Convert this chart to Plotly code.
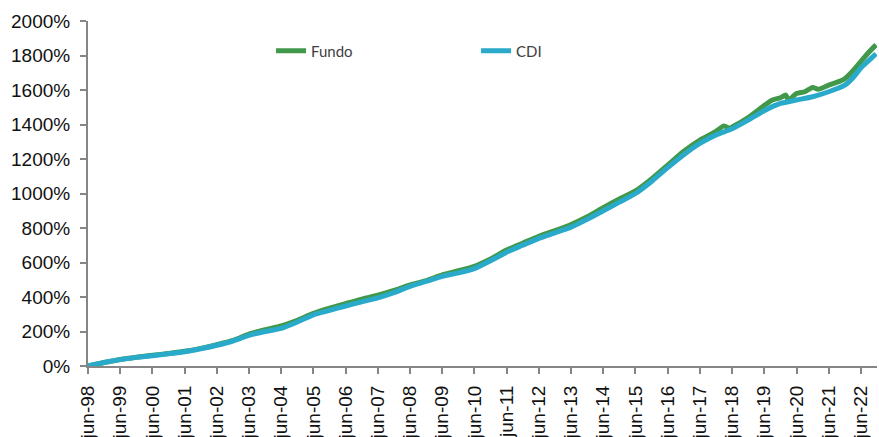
import plotly.graph_objects as go

# Cumulative return (%) since jun-98
cdi_dates = [
    "1998-06-01", "1998-12-01", "1999-06-01", "1999-12-01", "2000-06-01", "2000-12-01",
    "2001-06-01", "2001-12-01", "2002-06-01", "2002-12-01", "2003-06-01", "2003-12-01",
    "2004-06-01", "2004-12-01", "2005-06-01", "2005-12-01", "2006-06-01", "2006-12-01",
    "2007-06-01", "2007-12-01", "2008-06-01", "2008-12-01", "2009-06-01", "2009-12-01",
    "2010-06-01", "2010-12-01", "2011-06-01", "2011-12-01", "2012-06-01", "2012-12-01",
    "2013-06-01", "2013-12-01", "2014-06-01", "2014-12-01", "2015-06-01", "2015-12-01",
    "2016-06-01", "2016-12-01", "2017-06-01", "2017-12-01", "2018-06-01", "2018-12-01",
    "2019-06-01", "2019-12-01", "2020-06-01", "2020-12-01", "2021-06-01", "2021-12-01",
    "2022-03-01", "2022-06-01", "2022-09-01", "2022-11-20",
]
cdi_values = [
    0, 20, 37, 50, 60, 71,
    83, 100, 120, 145, 178, 200,
    218, 255, 297, 322, 348, 372,
    395, 425, 462, 490, 520, 540,
    565, 610, 660, 700, 740, 772,
    805, 850, 900, 950, 1000, 1070,
    1150, 1225, 1290, 1340, 1375, 1425,
    1480, 1522, 1542, 1561, 1590, 1628,
    1670, 1728, 1772, 1810,
]

fundo_dates = [
    "1998-06-01", "1998-12-01", "1999-06-01", "1999-12-01", "2000-06-01", "2000-12-01",
    "2001-06-01", "2001-12-01", "2002-06-01", "2002-12-01", "2003-06-01", "2003-12-01",
    "2004-06-01", "2004-12-01", "2005-06-01", "2005-12-01", "2006-06-01", "2006-12-01",
    "2007-06-01", "2007-12-01", "2008-06-01", "2008-12-01", "2009-06-01", "2009-12-01",
    "2010-06-01", "2010-12-01", "2011-06-01", "2011-12-01", "2012-06-01", "2012-12-01",
    "2013-06-01", "2013-12-01", "2014-06-01", "2014-12-01", "2015-06-01", "2015-12-01",
    "2016-06-01", "2016-12-01", "2017-06-01", "2017-12-01", "2018-03-01", "2018-05-01",
    "2018-06-01", "2018-12-01", "2019-06-01", "2019-09-01", "2019-12-01", "2020-02-01",
    "2020-03-01", "2020-06-01", "2020-09-01", "2020-12-01", "2021-02-01", "2021-06-01",
    "2021-10-01", "2021-12-01", "2022-03-01", "2022-06-01", "2022-09-01", "2022-11-20",
]
fundo_values = [
    0, 20, 38, 51, 62, 73,
    85, 102, 123, 148, 185, 210,
    232, 265, 305, 335, 362, 388,
    410, 438, 470, 495, 528, 552,
    578, 620, 672, 712, 752, 785,
    820, 865, 918, 968, 1015, 1085,
    1165, 1245, 1310, 1360, 1392, 1378,
    1385, 1440, 1510, 1542, 1555, 1571,
    1540, 1580, 1590, 1615, 1604, 1628,
    1650, 1665, 1710, 1765, 1820, 1862,
]

tick_dates = [f"{y}-06-01" for y in range(1998, 2023)]
tick_labels = [f"jun-{y % 100:02d}" for y in range(1998, 2023)]

GREEN = "#41984b"
BLUE = "#2aaacb"
AXIS = "#868686"

fig = go.Figure()
fig.add_trace(go.Scatter(
    x=fundo_dates, y=fundo_values, name="Fundo", mode="lines",
    line=dict(color=GREEN, width=5, shape="spline", smoothing=0.6),
))
fig.add_trace(go.Scatter(
    x=cdi_dates, y=cdi_values, name="CDI", mode="lines",
    line=dict(color=BLUE, width=5, shape="spline", smoothing=0.6),
))

fig.update_layout(
    width=879, height=437,
    margin=dict(l=88, r=2, t=21, b=71),
    paper_bgcolor="white", plot_bgcolor="white",
    font=dict(family="Liberation Sans, Arial, sans-serif", color="#111111", size=19),
    showlegend=True,
    legend=dict(
        orientation="h",
        x=0.232, xref="paper", xanchor="left",
        y=0.913, yanchor="middle",
        font=dict(family="Lato, sans-serif", size=15, color="#404040"),
        entrywidth=160, entrywidthmode="pixels",
        bgcolor="rgba(0,0,0,0)",
    ),
    xaxis=dict(
        type="date",
        range=["1998-06-01", "2022-12-01"],
        tickvals=tick_dates, ticktext=tick_labels,
        tickangle=-90,
        ticks="outside", ticklen=6, tickwidth=2, tickcolor=AXIS,
        ticklabelstandoff=4,
        showline=True, linecolor=AXIS, linewidth=2,
        showgrid=False, zeroline=False,
        tickfont=dict(size=19),
        automargin=False,
    ),
    yaxis=dict(
        range=[0, 2000], dtick=200, ticksuffix="%",
        ticks="outside", ticklen=6, tickwidth=2, tickcolor=AXIS,
        ticklabelstandoff=6,
        showline=True, linecolor=AXIS, linewidth=2,
        showgrid=False, zeroline=False,
        tickfont=dict(size=19),
        automargin=False,
    ),
)

fig.write_html("out.html")
